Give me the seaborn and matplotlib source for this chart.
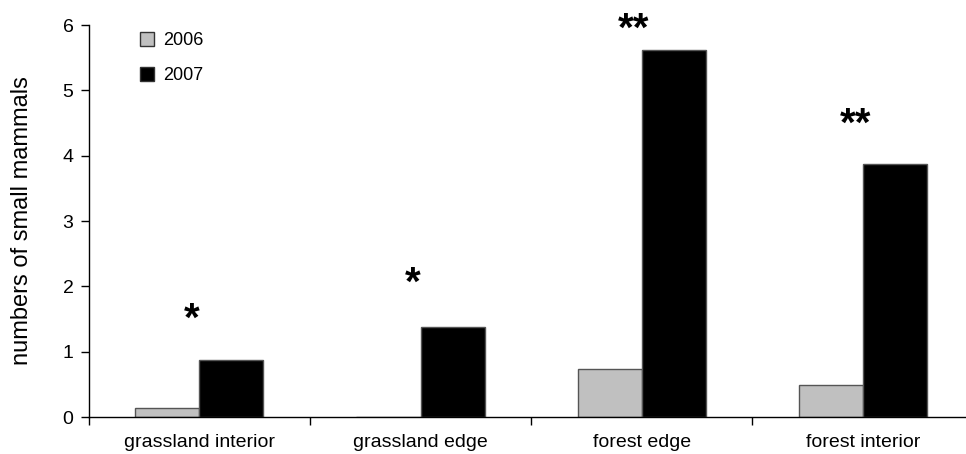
import matplotlib
matplotlib.use("Agg")
import matplotlib.pyplot as plt
import seaborn as sns
import pandas as pd
from matplotlib.patches import Patch

# Habitat categories and yearly counts
habitats = ["grassland interior", "grassland edge", "forest edge", "forest interior"]
years = ["2006", "2007"]
counts_2006 = [0.14, 0.0, 0.735, 0.49]
counts_2007 = [0.88, 1.37, 5.62, 3.87]

# Significance markers and their heights
sig_labels = ["*", "*", "**", "**"]
sig_heights = [1.61, 2.16, 6.05, 4.59]

yticks = [0, 1, 2, 3, 4, 5, 6]

df = pd.DataFrame({
    "habitat": habitats * 2,
    "year": [years[0]] * len(habitats) + [years[1]] * len(habitats),
    "count": counts_2006 + counts_2007,
})

sns.set_theme(style="white")
plt.rcParams["font.family"] = ["Liberation Sans", "DejaVu Sans"]
plt.rcParams["text.color"] = "black"
plt.rcParams["axes.labelcolor"] = "black"
plt.rcParams["xtick.color"] = "black"
plt.rcParams["ytick.color"] = "black"

fig = plt.figure(figsize=(9.66, 4.54), dpi=100)
ax = fig.add_axes([88.7 / 966, 37 / 454, 885 / 966, 392 / 454])

palette = {"2006": "#C0C0C0", "2007": "#000000"}
sns.barplot(data=df, x="habitat", y="count", hue="year", order=habitats,
            hue_order=years, palette=palette, width=0.58, gap=0,
            edgecolor="#555555", linewidth=1.0, saturation=1,
            legend=False, ax=ax)

ax.set_xlim(-0.5, 3.5)
ax.set_ylim(0, 6)
ax.set_yticks(yticks)
ax.set_yticklabels([str(t) for t in yticks], fontsize=14)

# Category labels centred, ticks at category boundaries
ax.set_xticks(range(len(habitats)))
ax.set_xticklabels(habitats, fontsize=14)
ax.set_xticks([-0.5, 0.5, 1.5, 2.5, 3.5], minor=True)
ax.tick_params(axis="x", which="major", length=0, pad=12.5)
ax.tick_params(axis="x", which="minor", length=6, width=1, color="black",
               direction="out", bottom=True)
ax.tick_params(axis="y", which="major", length=6, width=1, color="black",
               direction="out", left=True, pad=5)

ax.set_xlabel("")
ax.set_ylabel("numbers of small mammals", fontsize=17, labelpad=21)

for side in ["top", "right"]:
    ax.spines[side].set_visible(False)
for side in ["left", "bottom"]:
    ax.spines[side].set_color("black")
    ax.spines[side].set_linewidth(1.0)

# Significance asterisks (glyph sits high in the text box, so anchor on baseline)
for i, (lab, h) in enumerate(zip(sig_labels, sig_heights)):
    ax.text(i - 0.035, h - 0.29, lab, ha="center", va="baseline", fontsize=29,
            fontweight="bold", color="black")

handles = [Patch(facecolor=palette[y], edgecolor="#333333", linewidth=1.0,
                 label=y) for y in years]
ax.legend(handles=handles, loc="upper left", bbox_to_anchor=(0.05, 1.0),
          frameon=False, fontsize=13, handlelength=0.75, handleheight=0.75,
          handletextpad=0.5, labelspacing=1.0, borderaxespad=0)

fig.savefig("out.png", dpi=100)
